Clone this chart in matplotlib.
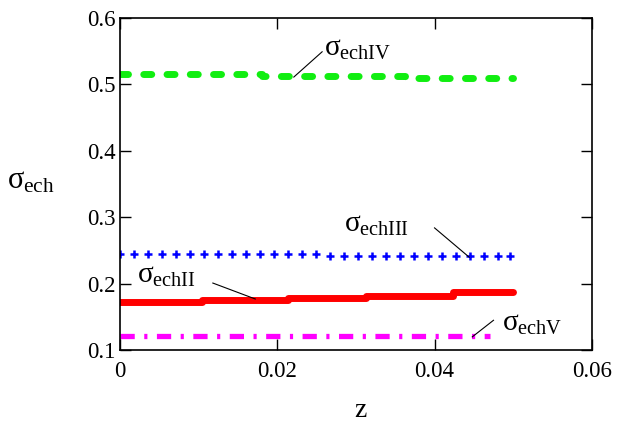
import matplotlib
matplotlib.use("Agg")
import matplotlib.pyplot as plt

plt.rcParams['font.family'] = ['Liberation Serif', 'DejaVu Serif']
plt.rcParams['mathtext.fontset'] = 'custom'
plt.rcParams['mathtext.rm'] = 'Liberation Serif'
plt.rcParams['mathtext.it'] = 'Liberation Serif'
plt.rcParams['mathtext.bf'] = 'Liberation Serif:bold'

# sigma_echII  (solid red, stepwise)
z_II = [0.0, 0.0104, 0.0213, 0.0313, 0.0424, 0.050]
s_II = [0.173, 0.176, 0.179, 0.182, 0.187, 0.187]

# sigma_echIII (blue + markers)
z_III = [0.0, 0.0018, 0.0036, 0.0053, 0.0071, 0.0089, 0.0107, 0.0125,
         0.0142, 0.0160, 0.0178, 0.0196, 0.0214, 0.0231, 0.0249, 0.0267,
         0.0285, 0.0303, 0.0320, 0.0338, 0.0356, 0.0374, 0.0392, 0.0409,
         0.0427, 0.0445, 0.0463, 0.0481, 0.0496]
s_III = [0.245, 0.245, 0.245, 0.245, 0.245, 0.245, 0.245, 0.245,
         0.245, 0.245, 0.245, 0.245, 0.245, 0.245, 0.245, 0.241,
         0.241, 0.241, 0.241, 0.241, 0.241, 0.241, 0.241, 0.241,
         0.241, 0.241, 0.241, 0.241, 0.241]

# sigma_echIV  (green dashed, stepwise)
z_IV = [0.0, 0.018, 0.0363, 0.050]
s_IV = [0.515, 0.512, 0.509, 0.509]

# sigma_echV   (magenta dash-dot)
z_V = [0.0, 0.047]
s_V = [0.121, 0.121]

fig = plt.figure(figsize=(6.19, 4.26), dpi=100)
ax = fig.add_axes([0.194, 0.178, 0.762, 0.780])

ax.plot(z_IV, s_IV, color='#11ee11', lw=5, drawstyle='steps-post',
        dashes=(1.15, 2.2), dash_capstyle='round')
ax.plot(z_III, s_III, color='#0000ff', ls='none', marker='+', ms=5.5, mew=1.8)
ax.plot(z_II, s_II, color='#ff0000', lw=5, drawstyle='steps-post',
        solid_capstyle='round')
ax.plot(z_V, s_V, color='#ff00ff', lw=3.8, dashes=(2.7, 1.8, 0.6, 1.8))

# leader lines and labels
leaders = [((0.0221, 0.511), (0.0257, 0.549)),
           ((0.0400, 0.284), (0.0444, 0.240)),
           ((0.0118, 0.201), (0.0172, 0.177)),
           ((0.0475, 0.145), (0.0448, 0.120))]
for a, b in leaders:
    ax.plot([a[0], b[0]], [a[1], b[1]], color='black', lw=0.8)

labels = [(0.0260, 0.553, r'$\sigma_{\mathrm{echIV}}$'),
          (0.0285, 0.289, r'$\sigma_{\mathrm{echIII}}$'),
          (0.0021, 0.211, r'$\sigma_{\mathrm{echII}}$'),
          (0.0486, 0.140, r'$\sigma_{\mathrm{echV}}$')]
for x, y, t in labels:
    ax.text(x, y, t, fontsize=21, ha='left', va='center', clip_on=False)

ax.set_xlim(0, 0.06)
ax.set_ylim(0.1, 0.6)
ax.set_xticks([0, 0.02, 0.04, 0.06])
ax.set_xticklabels(['0', '0.02', '0.04', '0.06'])
ax.set_yticks([0.1, 0.2, 0.3, 0.4, 0.5, 0.6])
ax.set_yticklabels(['0.1', '0.2', '0.3', '0.4', '0.5', '0.6'])
ax.tick_params(direction='in', top=True, right=True, length=8, width=1,
               labelsize=16.5)
ax.tick_params(axis='x', pad=8)
ax.tick_params(axis='y', pad=3)
for sp in ax.spines.values():
    sp.set_linewidth(1.2)

fig.text(0.011, 0.575, r'$\sigma_{\mathrm{ech}}$', fontsize=22, ha='left', va='center')
fig.text(0.582, 0.037, 'z', fontsize=20, ha='center', va='center')

fig.savefig('out.png', dpi=100)
